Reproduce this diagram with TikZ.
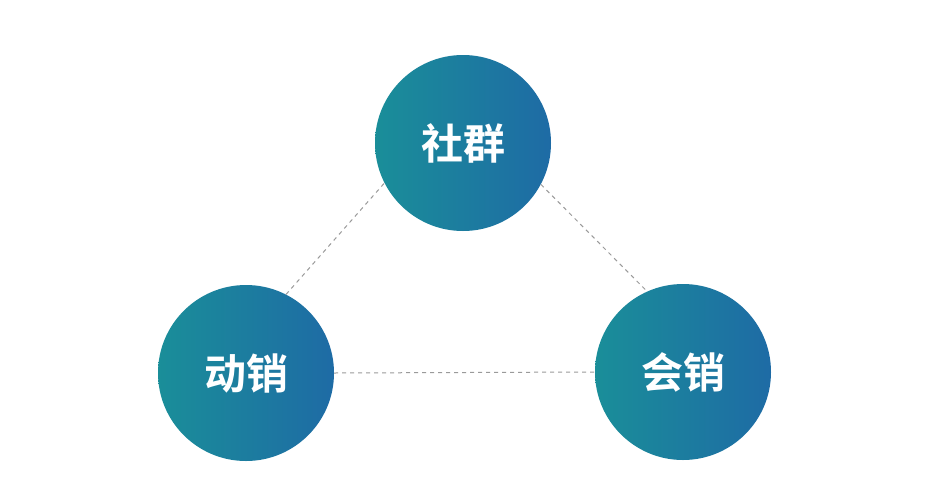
\documentclass[tikz,border=0pt]{standalone}
\usepackage{fontspec}
\newfontfamily\cjkbold[BoldFont={Noto Sans CJK SC Bold}]{Noto Sans CJK SC Bold}
\definecolor{tealL}{HTML}{1A8E99}
\definecolor{blueR}{HTML}{1E6BA5}
\definecolor{dashgray}{HTML}{9A9A9A}
\begin{document}
\begin{tikzpicture}[x=1pt,y=-1pt,
  ball/.style={circle,inner sep=0pt,minimum size=176pt,left color=tealL,right color=blueR,draw=none,
    text=white,font=\cjkbold\fontsize{42}{42}\selectfont},
  link/.style={draw=dashgray,line width=1pt,dash pattern=on 4pt off 4pt}]
\fill[white] (0,0) rectangle (930,496);
\useasboundingbox (0,0) rectangle (930,496);
\node[ball] (top) at (463,143) {社群};
\node[ball] (left) at (246,373) {动销};
\node[ball] (right) at (683,372) {会销};
\draw[link] (left.63) -- (top.207);
\draw[link] (top.332) -- (right.114);
\draw[link] (left.east) -- (right.west);
\end{tikzpicture}
\end{document}
